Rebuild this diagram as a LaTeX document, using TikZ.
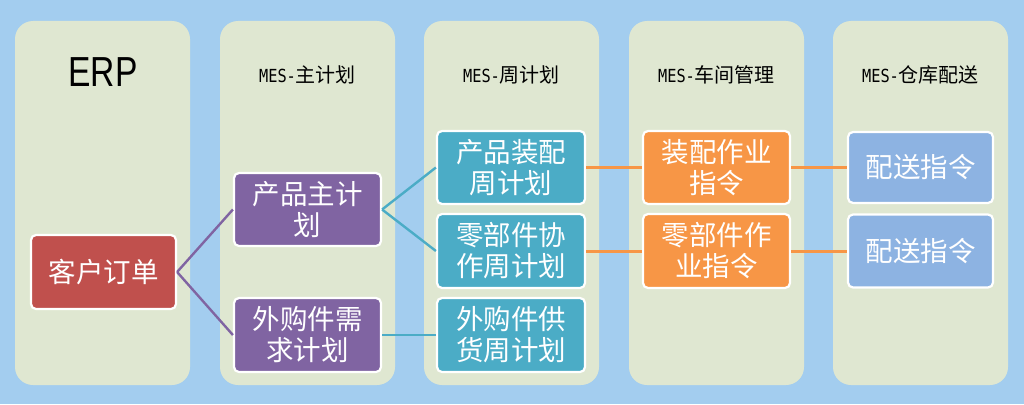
\documentclass[tikz,border=0pt]{standalone}
\usepackage{fontspec}
\newfontfamily\cjk{Noto Sans CJK SC}
\newfontfamily\hdmono[FakeStretch=0.85]{DejaVu Sans Mono}
\newfontfamily\erpfont[FakeStretch=0.8]{Liberation Sans}
\definecolor{bgblue}{HTML}{A3CDEF}
\definecolor{colgreen}{HTML}{DFE7D1}
\definecolor{redbox}{HTML}{C0504D}
\definecolor{purplebox}{HTML}{8064A2}
\definecolor{bluebox}{HTML}{4BACC6}
\definecolor{orangebox}{HTML}{F79646}
\definecolor{lbluebox}{HTML}{8DB3E2}
\tikzset{
  column/.style={fill=colgreen, rounded corners=18pt},
  box/.style={draw=white, line width=2.2pt, rounded corners=5pt, text=white,
    font=\cjk\fontsize{27.5}{31}\selectfont, align=center, inner sep=0pt},
  hdr/.style={font=\cjk\fontsize{20}{22}\selectfont, text=black},
  link/.style={line width=2.4pt},
}
\begin{document}
\begin{tikzpicture}[x=1pt,y=-1pt]
\useasboundingbox[fill=bgblue] (0,0) rectangle (1024,404);
% columns
\fill[column] (15,21) rectangle (190,385);
\fill[column] (220,21) rectangle (395,385);
\fill[column] (424,21) rectangle (599,385);
\fill[column] (629,21) rectangle (804,385);
\fill[column] (833,21) rectangle (1008,385);
% headers
\node[font=\erpfont\fontsize{42}{44}\selectfont] (hERP) at (103,72) {ERP};
\node[hdr] (h2) at (307.5,75) {{\hdmono\fontsize{18}{20}\selectfont MES-}主计划};
\node[hdr] (h3) at (511.5,75) {{\hdmono\fontsize{18}{20}\selectfont MES-}周计划};
\node[hdr] (h4) at (716.5,75) {{\hdmono\fontsize{18}{20}\selectfont MES-}车间管理};
\node[hdr] (h5) at (920.5,75) {{\hdmono\fontsize{18}{20}\selectfont MES-}仓库配送};
% positions
\coordinate (red) at (103.5,272);
\coordinate (p1) at (307.5,209.5);
\coordinate (p2) at (307.5,335);
\coordinate (b1) at (511,167.5);
\coordinate (b2) at (511,251);
\coordinate (b3) at (511,335);
\coordinate (o1) at (716.5,167.5);
\coordinate (o2) at (716.5,251);
\coordinate (l1) at (920.5,167.5);
\coordinate (l2) at (920.5,251);
% boxes
\node[box, fill=redbox, minimum width=145pt, minimum height=74pt] (order) at (red) {客户订单};
\node[box, fill=purplebox, minimum width=147pt, minimum height=73pt] (pm) at (p1) {产品主计\\划};
\node[box, fill=purplebox, minimum width=147pt, minimum height=74pt] (pd) at (p2) {外购件需\\求计划};
\node[box, fill=bluebox, minimum width=148pt, minimum height=73pt] (bw1) at (b1) {产品装配\\周计划};
\node[box, fill=bluebox, minimum width=148pt, minimum height=74pt] (bw2) at (b2) {零部件协\\作周计划};
\node[box, fill=bluebox, minimum width=148pt, minimum height=74pt] (bw3) at (b3) {外购件供\\货周计划};
\node[box, fill=orangebox, minimum width=147pt, minimum height=73pt] (ow1) at (o1) {装配作业\\指令};
\node[box, fill=orangebox, minimum width=147pt, minimum height=74pt] (ow2) at (o2) {零部件作\\业指令};
\node[box, fill=lbluebox, minimum width=145pt, minimum height=71pt] (d1) at (l1) {配送指令};
\node[box, fill=lbluebox, minimum width=145pt, minimum height=73pt] (d2) at (l2) {配送指令};
% links
\draw[link, draw=purplebox] (order.east) -- (pm.west);
\draw[link, draw=purplebox] (order.east) -- (pd.west);
\draw[link, draw=bluebox] (pm.east) -- (bw1.west);
\draw[link, draw=bluebox] (pm.east) -- (bw2.west);
\draw[link, draw=bluebox] (pd.east) -- (bw3.west);
\draw[link, draw=orangebox, line width=3pt] (bw1.east) -- (ow1.west);
\draw[link, draw=orangebox, line width=3pt] (bw2.east) -- (ow2.west);
\draw[link, draw=orangebox, line width=3pt] (ow1.east) -- (d1.west);
\draw[link, draw=orangebox, line width=3pt] (ow2.east) -- (d2.west);
\end{tikzpicture}
\end{document}
